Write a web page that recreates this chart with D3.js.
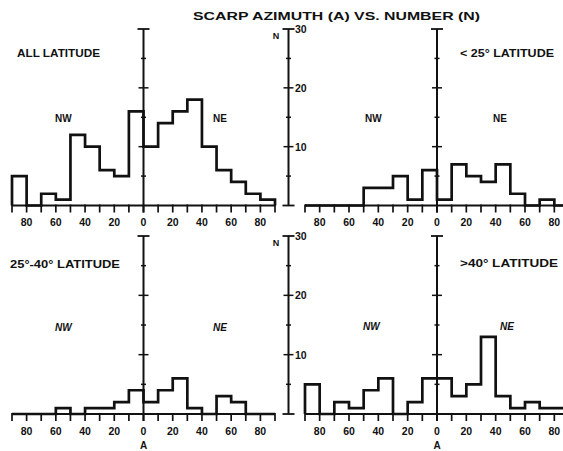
<!DOCTYPE html>
<html>
<head>
<meta charset="utf-8">
<script src="https://cdn.jsdelivr.net/npm/d3@7"></script>
<style>
  body { margin: 0; background: #fff; }
  svg text { font-family: "Liberation Sans", Arial, sans-serif; font-weight: bold; fill: #111; }
</style>
</head>
<body>
<svg id="chart" width="563" height="451"></svg>
<script>
// bin edges (azimuth, degrees), NW negative / NE positive
var binEdges = [-90, -80, -70, -60, -50, -40, -30, -20, -10, 0, 10, 20, 30, 40, 50, 60, 70, 80, 90];
var tickValues = [-80, -60, -40, -20, 0, 20, 40, 60, 80];
var tickLabels = ["80", "60", "40", "20", "0", "20", "40", "60", "80"];
var nTicks = [5, 10, 15, 20, 25];
var nLabels = [10, 20, 30];

// counts per 10 degree bin
var allLatitude = [5, 0, 2, 1, 12, 10, 6, 5, 16, 10, 14, 16, 18, 10, 6, 4, 2, 1];
var lowLatitude = [0, 0, 0, 0, 3, 3, 5, 1, 6, 1, 7, 5, 4, 7, 2, 0, 1, 0];
var midLatitude = [0, 0, 0, 1, 0, 1, 1, 2, 4, 2, 4, 6, 1, 0, 3, 2, 0, 0];
var highLatitude = [5, 0, 2, 1, 4, 6, 0, 2, 6, 6, 3, 5, 13, 3, 1, 2, 1, 1];

var panels = [
    {values: allLatitude, label: "ALL LATITUDE", row: 0, col: 0},
    {values: lowLatitude, label: "< 25\u00b0 LATITUDE", row: 0, col: 1},
    {values: midLatitude, label: "25\u00b0-40\u00b0 LATITUDE", row: 1, col: 0},
    {values: highLatitude, label: ">40\u00b0 LATITUDE", row: 1, col: 1}
];

var W = 563;
var colRange = [[12, 275], [305, 569]];
var rowRange = [[205.5, 29], [414, 236]];
var labelPos = [
    [{x: 17, y: 57, w: 83, nw: [55, 122], ne: [213, 122]}, {x: 460, y: 57, w: 94, nw: [365, 122], ne: [493, 122]}],
    [{x: 10, y: 268, w: 110, nw: [55, 331], ne: [213, 331]}, {x: 460, y: 267, w: 98, nw: [363, 330], ne: [500, 330]}]
];

var svg = d3.select("#chart");

svg.append("text")
    .attr("x", 193).attr("y", 20)
    .attr("textLength", 287).attr("lengthAdjust", "spacingAndGlyphs")
    .style("font-size", "10.5px")
    .text("SCARP AZIMUTH (A) VS. NUMBER (N)");

function vAxis(g, xPos, y, capHalf) {
    g.append("line")
        .attr("x1", xPos).attr("x2", xPos)
        .attr("y1", y(0) + (capHalf ? 0 : 7)).attr("y2", y(30))
        .attr("stroke", "#111").attr("stroke-width", 2);
    g.append("line")
        .attr("x1", xPos - 6).attr("x2", xPos + 6)
        .attr("y1", y(30)).attr("y2", y(30))
        .attr("stroke", "#111").attr("stroke-width", 1.8);
    nTicks.forEach(function (n) {
        var h = n % 10 === 0 ? 5 : 2.5;
        g.append("line")
            .attr("x1", xPos - h).attr("x2", xPos + h)
            .attr("y1", y(n)).attr("y2", y(n))
            .attr("stroke", "#111").attr("stroke-width", 1.5);
    });
}

var line = d3.line();

panels.forEach(function (p) {
    var x = d3.scaleLinear().domain([-90, 90]).range(colRange[p.col]);
    var y = d3.scaleLinear().domain([0, 30]).range(rowRange[p.row]);
    var g = svg.append("g");

    // baseline and azimuth ticks
    g.append("line")
        .attr("x1", x(-90)).attr("x2", Math.min(x(90), W))
        .attr("y1", y(0)).attr("y2", y(0))
        .attr("stroke", "#111").attr("stroke-width", 2);
    binEdges.forEach(function (e) {
        g.append("line")
            .attr("x1", x(e)).attr("x2", x(e))
            .attr("y1", y(0) - 1).attr("y2", y(0) + 7)
            .attr("stroke", "#111").attr("stroke-width", 1.7);
    });
    g.selectAll(".tl").data(tickValues).enter().append("text")
        .attr("x", function (d) { return x(d); })
        .attr("y", y(0) + 20.5)
        .attr("text-anchor", "middle")
        .style("font-size", "10.5px")
        .text(function (d, i) { return tickLabels[i]; });

    // centre axis at azimuth 0
    vAxis(g, x(0), y, false);

    // histogram outline
    var pts = [[x(binEdges[0]), y(0)]];
    p.values.forEach(function (v, i) {
        pts.push([x(binEdges[i]), y(v)]);
        pts.push([x(binEdges[i + 1]), y(v)]);
    });
    pts.push([x(90), y(0)]);
    g.append("path")
        .attr("d", line(pts))
        .attr("fill", "none")
        .attr("stroke", "#111")
        .attr("stroke-width", 2.7)
        .attr("stroke-linejoin", "miter");

    var lp = labelPos[p.row][p.col];
    g.append("text")
        .attr("x", lp.x).attr("y", lp.y)
        .attr("textLength", lp.w).attr("lengthAdjust", "spacingAndGlyphs")
        .style("font-size", "10px")
        .text(p.label);
    g.append("text").attr("x", lp.nw[0]).attr("y", lp.nw[1])
        .style("font-size", "10px")
        .style("font-style", p.row === 1 ? "italic" : "normal")
        .text("NW");
    g.append("text").attr("x", lp.ne[0]).attr("y", lp.ne[1])
        .style("font-size", "10px")
        .style("font-style", p.row === 1 ? "italic" : "normal")
        .text("NE");

    if (p.row === 1) {
        g.append("text")
            .attr("x", x(0)).attr("y", y(0) + 35)
            .attr("text-anchor", "middle")
            .style("font-size", "10px")
            .text("A");
    }
});

// shared N axis between columns
rowRange.forEach(function (r) {
    var y = d3.scaleLinear().domain([0, 30]).range(r);
    var g = svg.append("g");
    vAxis(g, 288.5, y, true);
    g.append("line")
        .attr("x1", 282.5).attr("x2", 294.5)
        .attr("y1", y(0)).attr("y2", y(0))
        .attr("stroke", "#111").attr("stroke-width", 1.8);
    g.selectAll(".nl").data(nLabels).enter().append("text")
        .attr("x", 295).attr("y", function (d) { return y(d) + 4; })
        .style("font-size", "10.5px")
        .text(function (d) { return d; });
    g.append("text")
        .attr("x", 276).attr("y", y(30) + 10)
        .attr("text-anchor", "middle")
        .style("font-size", "9px")
        .text("N");
});
</script>
</body>
</html>
